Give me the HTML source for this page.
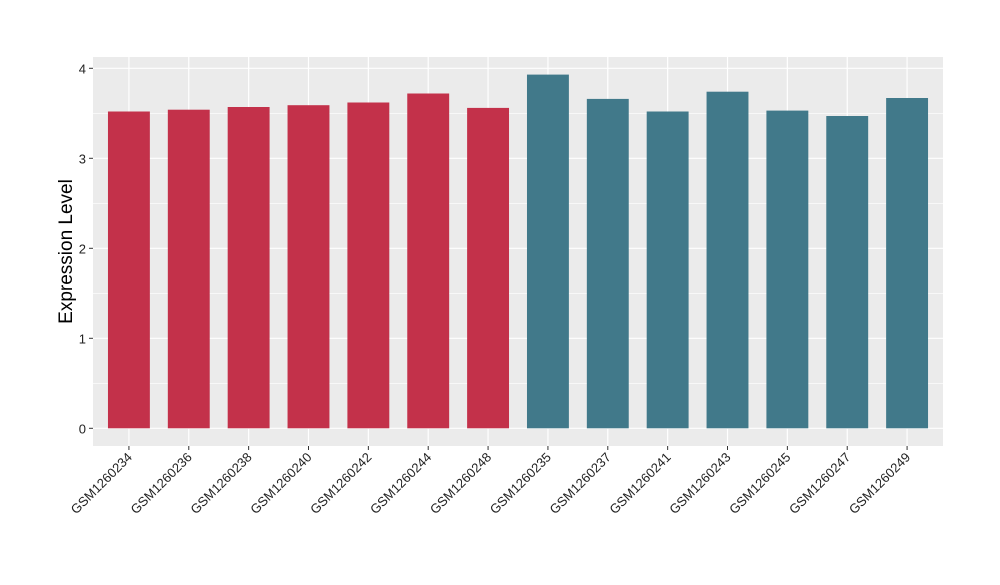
<!DOCTYPE html>
<html><head><meta charset="utf-8"><style>
body{margin:0;background:#fff;font-family:"Liberation Sans",sans-serif}
</style></head><body>
<svg id="c" width="1000" height="580" xmlns="http://www.w3.org/2000/svg"></svg>
<script>
const categories=["GSM1260234","GSM1260236","GSM1260238","GSM1260240","GSM1260242","GSM1260244","GSM1260248","GSM1260235","GSM1260237","GSM1260241","GSM1260243","GSM1260245","GSM1260247","GSM1260249"];
const values=[3.52,3.54,3.57,3.59,3.62,3.72,3.56,3.93,3.66,3.52,3.74,3.53,3.47,3.67];
const groups=[0,0,0,0,0,0,0,1,1,1,1,1,1,1];
const yTicks=[0,1,2,3,4];
const colors=["#C3314A","#41798A"];
const NS="http://www.w3.org/2000/svg";
const svg=document.getElementById('c');
const L=93,R=943,T=57,B=446;
const y0=428.3,yPer=90;
const step=(R-L)/(categories.length-1+1.2);
function x(i){return L+step*(0.6+i);}
function y(v){return y0-v*yPer;}
function mk(t,a,p){const e=document.createElementNS(NS,t);for(const k in a)e.setAttribute(k,a[k]);(p||svg).appendChild(e);return e;}
let bg=mk('rect',{x:L,y:T,width:R-L,height:B-T,fill:'#EBEBEB'});


for(let i=0;i<yTicks.length-1;i++){
  let m=mk('line',{x1:L,x2:R,y1:y(yTicks[i]+0.5),y2:y(yTicks[i]+0.5),stroke:'#fff','stroke-width':0.6});
  
  
}
yTicks.forEach(v=>{
  let g=mk('line',{x1:L,x2:R,y1:y(v),y2:y(v),stroke:'#fff','stroke-width':1.2});
  
  
  let tk=mk('line',{x1:L-4,x2:L,y1:y(v),y2:y(v),stroke:'#333','stroke-width':1});
  
  
  let t=mk('text',{x:L-7,y:y(v)+5,'text-anchor':'end','font-size':13,fill:'#222'});
  t.textContent=v;
  
  
});
categories.forEach((c,i)=>{
  let g=mk('line',{x1:x(i),x2:x(i),y1:T,y2:B,stroke:'#fff','stroke-width':1.2});
  
  
});
const bw=step*0.7;
categories.forEach((c,i)=>{
  let r=mk('rect',{x:x(i)-bw/2,y:y(values[i]),width:bw,height:y(0)-y(values[i]),fill:colors[groups[i]]});
  
  
  let tk=mk('line',{x1:x(i),x2:x(i),y1:B,y2:B+4,stroke:'#333','stroke-width':1});
  
  
  let t=mk('text',{x:x(i)+4,y:B+12,'text-anchor':'end','font-size':13,fill:'#222',transform:`rotate(-45 ${x(i)+4} ${B+12})`});
  t.textContent=c;
  
  
});
let yt=mk('text',{x:72,y:(T+B)/2,'text-anchor':'middle','font-size':19,fill:'#000',transform:`rotate(-90 72 ${(T+B)/2})`});
yt.textContent='Expression Level';


</script>
</body></html>
